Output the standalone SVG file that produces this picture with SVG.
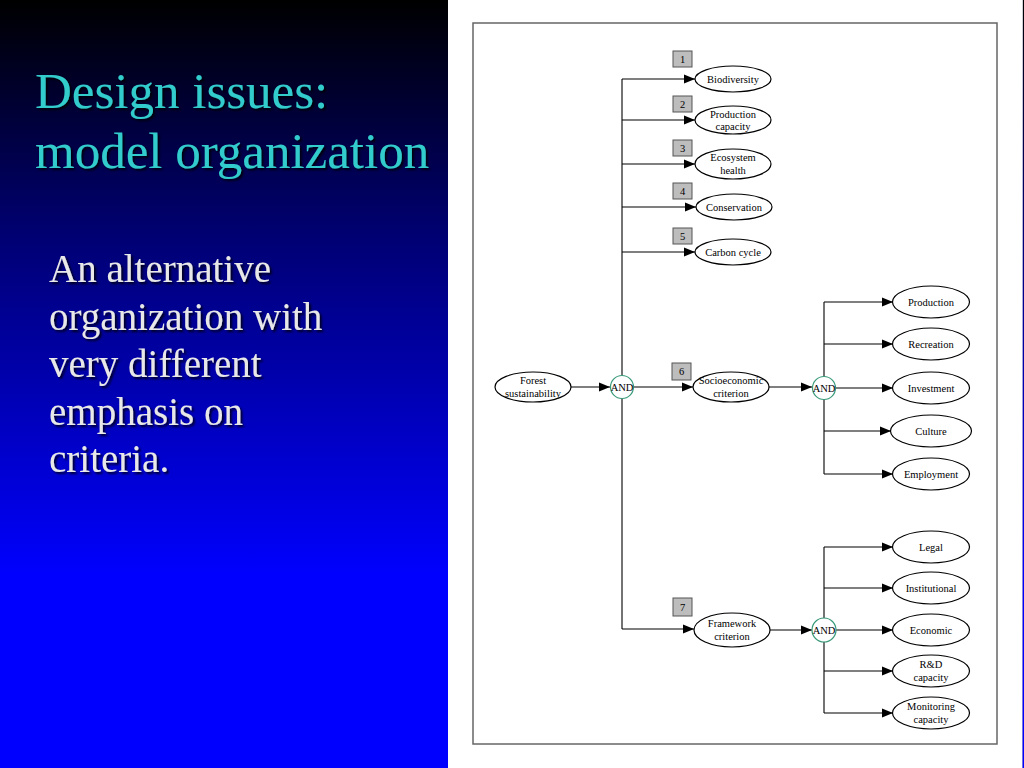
<svg xmlns="http://www.w3.org/2000/svg" width="1024" height="768" viewBox="0 0 1024 768">
<defs>
<linearGradient id="bg" x1="0" y1="0" x2="0" y2="768" gradientUnits="userSpaceOnUse">
<stop offset="0" stop-color="#000000"/>
<stop offset="0.3" stop-color="#000070"/>
<stop offset="0.75" stop-color="#0000ff"/>
<stop offset="1" stop-color="#0000ff"/>
</linearGradient>
<linearGradient id="edge" x1="0" y1="0" x2="0" y2="768" gradientUnits="userSpaceOnUse">
<stop offset="0" stop-color="#d0d0d8"/>
<stop offset="1" stop-color="#7070e0"/>
</linearGradient>
<filter id="shadow" x="-5%" y="-20%" width="110%" height="140%">
<feDropShadow dx="2" dy="2" stdDeviation="1" flood-color="#000000" flood-opacity="0.8"/>
</filter>
<marker id="arr" markerUnits="userSpaceOnUse" markerWidth="12" markerHeight="10" refX="11" refY="5" orient="auto">
<path d="M0,0.5 L11,5 L0,9.5 z" fill="#000"/>
</marker>
<style>
.title{font-family:"Liberation Serif","Times New Roman",serif;font-size:51px;fill:#33cccc;filter:url(#shadow)}
.body{font-family:"Liberation Serif","Times New Roman",serif;font-size:39px;fill:#e8e8e8;filter:url(#shadow)}
.node ellipse{fill:#fff;stroke:#000;stroke-width:1.2}
.node text,.and text,.num text{font-family:"Liberation Serif","Times New Roman",serif;font-size:10.5px;fill:#000;text-anchor:middle}
.and circle{fill:#fff;stroke:#3a9a7a;stroke-width:1.2}
.num rect{fill:#bdbdbd;stroke:#555;stroke-width:1}
.conn path{fill:none;stroke:#000;stroke-width:1.1}
.arrow{marker-end:url(#arr)}
</style>
</defs>

<rect x="0" y="0" width="1024" height="768" fill="url(#bg)"/>
<rect x="448" y="0" width="574" height="768" fill="#ffffff"/>
<line x1="1022.5" y1="0" x2="1022.5" y2="768" stroke="url(#edge)" stroke-width="1"/>
<rect x="473" y="23" width="524" height="721" fill="#ffffff" stroke="#666" stroke-width="1.5"/>

<text class="title" x="35" y="108">Design issues:</text>
<text class="title" x="35" y="168">model organization</text>

<text class="body" x="49" y="282">An alternative</text>
<text class="body" x="49" y="330">organization with</text>
<text class="body" x="49" y="377">very different</text>
<text class="body" x="49" y="425">emphasis on</text>
<text class="body" x="49" y="472">criteria.</text>

<g id="connectors" class="conn">
<path d="M622,79 V629"/>
<path class="arrow" d="M622,79 H695"/>
<path class="arrow" d="M622,120 H695"/>
<path class="arrow" d="M622,164 H695"/>
<path class="arrow" d="M622,207 H696"/>
<path class="arrow" d="M622,252 H695"/>
<path class="arrow" d="M571,387 H610"/>
<path class="arrow" d="M634,387 H693"/>
<path class="arrow" d="M622,629 H694"/>
<path class="arrow" d="M769,387 H812"/>
<path d="M824,302 V474"/>
<path class="arrow" d="M824,302 H893"/>
<path class="arrow" d="M824,344 H893"/>
<path class="arrow" d="M836,388 H893"/>
<path class="arrow" d="M824,431 H891"/>
<path class="arrow" d="M824,474 H893"/>
<path class="arrow" d="M770,630 H812"/>
<path d="M824,547 V713"/>
<path class="arrow" d="M824,547 H893"/>
<path class="arrow" d="M824,588 H893"/>
<path class="arrow" d="M836,630 H893"/>
<path class="arrow" d="M824,671 H893"/>
<path class="arrow" d="M824,713 H893"/>
</g>

<g id="and1" class="and"><circle cx="622" cy="387" r="11.5"/><text x="622" y="391">AND</text></g>
<g id="and2" class="and"><circle cx="824" cy="388" r="11.5"/><text x="824" y="392">AND</text></g>
<g id="and3" class="and"><circle cx="824" cy="630" r="12"/><text x="824" y="634">AND</text></g>

<g id="box1" class="num"><rect x="673" y="51" width="19" height="16"/><text x="682.5" y="63">1</text></g>
<g id="box2" class="num"><rect x="673" y="96" width="19" height="16"/><text x="682.5" y="108">2</text></g>
<g id="box3" class="num"><rect x="673" y="140" width="19" height="16"/><text x="682.5" y="152">3</text></g>
<g id="box4" class="num"><rect x="673" y="183" width="19" height="16"/><text x="682.5" y="195">4</text></g>
<g id="box5" class="num"><rect x="673" y="228" width="19" height="16"/><text x="682.5" y="240">5</text></g>
<g id="box6" class="num"><rect x="672" y="363" width="19" height="17"/><text x="681.5" y="375">6</text></g>
<g id="box7" class="num"><rect x="673" y="598" width="19" height="18"/><text x="682.5" y="611">7</text></g>

<g id="forest" class="node"><ellipse cx="533" cy="387" rx="38" ry="15"/><text x="533" y="384">Forest</text><text x="533" y="397">sustainability</text></g>
<g id="biodiversity" class="node"><ellipse cx="733" cy="79" rx="38" ry="13"/><text x="733" y="83">Biodiversity</text></g>
<g id="production-capacity" class="node"><ellipse cx="733" cy="120" rx="38" ry="14"/><text x="733" y="118">Production</text><text x="733" y="130">capacity</text></g>
<g id="ecosystem-health" class="node"><ellipse cx="733" cy="164" rx="38" ry="15"/><text x="733" y="161">Ecosystem</text><text x="733" y="174">health</text></g>
<g id="conservation" class="node"><ellipse cx="734" cy="207" rx="38" ry="13"/><text x="734" y="211">Conservation</text></g>
<g id="carbon-cycle" class="node"><ellipse cx="733" cy="252" rx="38" ry="13"/><text x="733" y="256">Carbon cycle</text></g>
<g id="socioeconomic" class="node"><ellipse cx="731" cy="387" rx="38" ry="15"/><text x="731" y="384">Socioeconomic</text><text x="731" y="397">criterion</text></g>
<g id="framework" class="node"><ellipse cx="732" cy="630" rx="38" ry="17"/><text x="732" y="627">Framework</text><text x="732" y="640">criterion</text></g>

<g id="production" class="node"><ellipse cx="931" cy="302" rx="38.5" ry="16"/><text x="931" y="306">Production</text></g>
<g id="recreation" class="node"><ellipse cx="931" cy="344" rx="38.5" ry="16"/><text x="931" y="348">Recreation</text></g>
<g id="investment" class="node"><ellipse cx="931" cy="388" rx="38.5" ry="16"/><text x="931" y="392">Investment</text></g>
<g id="culture" class="node"><ellipse cx="931" cy="431" rx="40.5" ry="16"/><text x="931" y="435">Culture</text></g>
<g id="employment" class="node"><ellipse cx="931" cy="474" rx="38.5" ry="16"/><text x="931" y="478">Employment</text></g>

<g id="legal" class="node"><ellipse cx="931" cy="547" rx="38.5" ry="16"/><text x="931" y="551">Legal</text></g>
<g id="institutional" class="node"><ellipse cx="931" cy="588" rx="38.5" ry="16"/><text x="931" y="592">Institutional</text></g>
<g id="economic" class="node"><ellipse cx="931" cy="630" rx="38.5" ry="16"/><text x="931" y="634">Economic</text></g>
<g id="rd-capacity" class="node"><ellipse cx="931" cy="671" rx="38.5" ry="16"/><text x="931" y="668">R&amp;D</text><text x="931" y="681">capacity</text></g>
<g id="monitoring-capacity" class="node"><ellipse cx="931" cy="713" rx="38.5" ry="16"/><text x="931" y="710">Monitoring</text><text x="931" y="723">capacity</text></g>
</svg>
